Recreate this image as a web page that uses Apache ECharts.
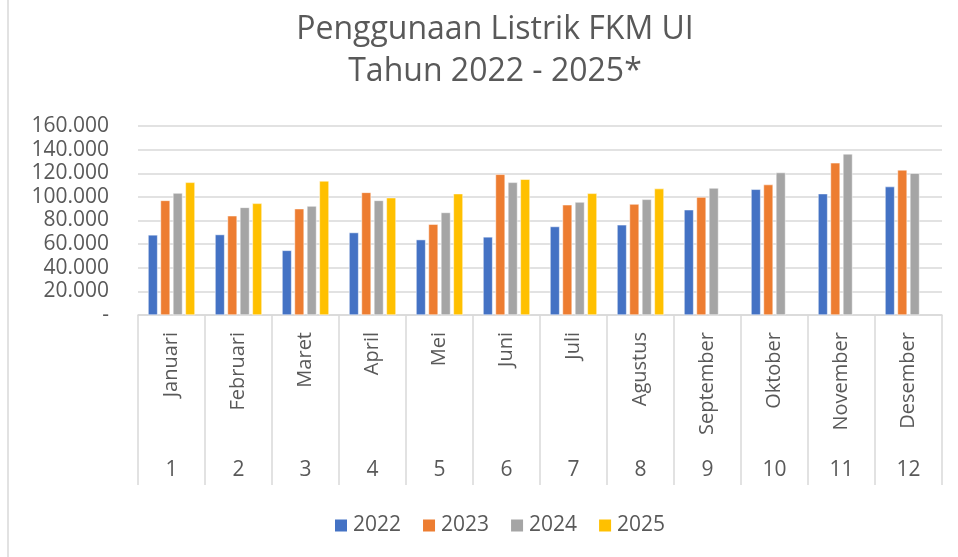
<!DOCTYPE html>
<html>
<head>
<meta charset="utf-8">
<script src="https://cdn.jsdelivr.net/npm/echarts@6/dist/echarts.min.js"></script>
<style>
  html, body { margin: 0; padding: 0; background: #fff; }
  #main { width: 958px; height: 557px; }
</style>
</head>
<body>
<div id="main"></div>
<script>
// month names (first level) and month numbers (second level)
var months = ['Januari', 'Februari', 'Maret', 'April', 'Mei', 'Juni', 'Juli', 'Agustus', 'September', 'Oktober', 'November', 'Desember'];
var monthNums = ['1', '2', '3', '4', '5', '6', '7', '8', '9', '10', '11', '12'];

// usage per year
var y2022 = [67800, 68100, 54700, 69800, 63800, 66100, 74900, 76300, 89100, 106400, 102700, 108700];
var y2023 = [97000, 84000, 90000, 103800, 76900, 119100, 93300, 93900, 99800, 110400, 128800, 122800];
var y2024 = [103200, 91100, 92200, 97000, 86800, 112300, 95600, 97900, 107500, 120600, 136400, 120000];
var y2025 = [112300, 94500, 113500, 99300, 102700, 114900, 103000, 107000, null, null, null, null];

var textColor = '#595959';
var lineColor = '#d9d9d9';
var font = 'Open Sans';

function fmt(v) {
  if (v === 0) return '-';
  return String(v).replace(/\B(?=(\d{3})+(?!\d))/g, '.');
}

function barSeries(name, data, color) {
  return {
    name: name,
    type: 'bar',
    data: data,
    barGap: '30%',
    barCategoryGap: '30%',
    itemStyle: { color: color, borderColor: '#fff', borderWidth: 0.5 }
  };
}

var chart = echarts.init(document.getElementById('main'));

var option = {
  animation: false,
  title: {
    text: 'Penggunaan Listrik FKM UI\nTahun 2022 - 2025*',
    left: 490,
    textAlign: 'center',
    top: 4,
    textStyle: {
      fontFamily: font,
      fontWeight: 'normal',
      fontSize: 32,
      lineHeight: 42,
      color: textColor
    }
  },
  legend: {
    top: 510,
    left: 328,
    itemWidth: 14,
    itemHeight: 14,
    itemGap: 20,
    icon: 'rect',
    textStyle: { fontFamily: font, fontSize: 21, color: textColor },
    data: ['2022', '2023', '2024', '2025']
  },
  grid: { left: 138, right: 16, top: 126, bottom: 242 },
  xAxis: [
    {
      type: 'category',
      data: months,
      axisLine: { lineStyle: { color: lineColor, width: 1.5 } },
      axisTick: { show: true, length: 170, lineStyle: { color: lineColor, width: 1.5 } },
      axisLabel: {
        rotate: 90,
        margin: 17,
        fontFamily: font,
        fontSize: 20,
        color: textColor
      }
    },
    {
      type: 'category',
      data: monthNums,
      position: 'bottom',
      axisLine: { show: false },
      axisTick: { show: false },
      axisLabel: {
        margin: 145,
        fontFamily: font,
        fontSize: 21,
        color: textColor
      }
    }
  ],
  yAxis: {
    type: 'value',
    min: 0,
    max: 160000,
    interval: 20000,
    axisLine: { show: false },
    axisTick: { show: false },
    splitLine: { lineStyle: { color: lineColor, width: 1.5 } },
    axisLabel: {
      margin: 29,
      fontFamily: font,
      fontSize: 21,
      color: textColor,
      formatter: fmt
    }
  },
  series: [
    barSeries('2022', y2022, '#4472C4'),
    barSeries('2023', y2023, '#ED7D31'),
    barSeries('2024', y2024, '#A5A5A5'),
    barSeries('2025', y2025, '#FFC000')
  ],
  graphic: [{
    type: 'line',
    shape: { x1: 8, y1: 0, x2: 8, y2: 557 },
    style: { stroke: lineColor, lineWidth: 1.5 }
  }]
};

chart.setOption(option);
</script>
</body>
</html>
